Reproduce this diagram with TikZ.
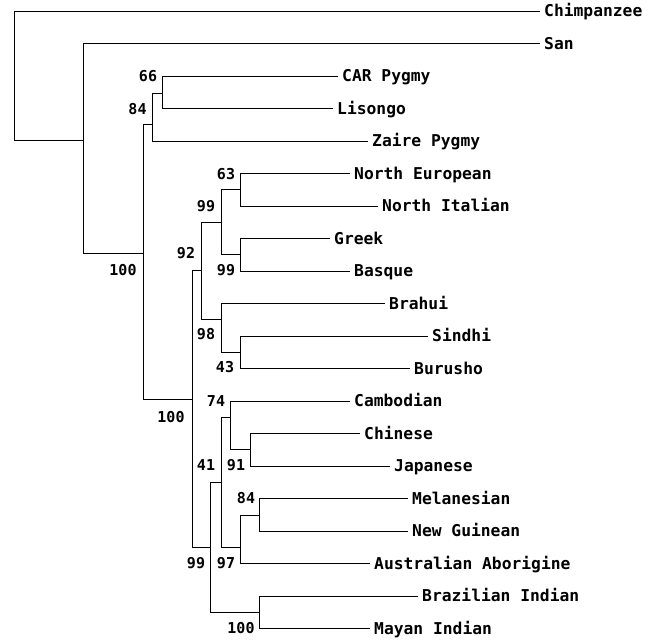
\documentclass[tikz,border=0pt]{standalone}
\usepackage{fontspec}
\setmonofont{DejaVu Sans Mono}
\begin{document}
\begin{tikzpicture}[
    x=1pt, y=-1pt,
    branch/.style={draw=black, line width=1pt},
    taxon/.style={anchor=west, inner xsep=4pt, inner ysep=0pt, text height=11.9pt, text depth=0pt, font=\ttfamily\bfseries\fontsize{16.3}{18}\selectfont},
    support/.style={inner sep=0pt, text height=11pt, text depth=0pt, font=\ttfamily\bfseries\fontsize{15}{17}\selectfont}
]
\useasboundingbox[fill=white] (0,0) rectangle (656,640);

% ==================== INTERNAL NODES ====================
\coordinate (r) at (14, 75);
\coordinate (a) at (83, 140);
\coordinate (b) at (143, 253);
\coordinate (c) at (152, 124);
\coordinate (e) at (162, 93);
\coordinate (d) at (192, 399);
\coordinate (f) at (201, 270);
\coordinate (h) at (221, 222);
\coordinate (k) at (240, 189.5);
\coordinate (j) at (240, 254.5);
\coordinate (i) at (221, 319);
\coordinate (l) at (240, 352);
\coordinate (g) at (210, 547);
\coordinate (m) at (221, 482);
\coordinate (n) at (230, 417);
\coordinate (p) at (250, 449.5);
\coordinate (o) at (240, 547);
\coordinate (q) at (259, 515);
\coordinate (s) at (259, 612);

% ==================== TAXA ====================
\node[taxon] (chimp) at (540, 11) {Chimpanzee};
\node[taxon] (san) at (540, 43.5) {San};
\node[taxon] (car) at (338, 76) {CAR Pygmy};
\node[taxon] (lisongo) at (333, 108.5) {Lisongo};
\node[taxon] (zaire) at (368, 141) {Zaire Pygmy};
\node[taxon] (neur) at (350, 173.5) {North European};
\node[taxon] (nital) at (378, 206) {North Italian};
\node[taxon] (greek) at (330, 238.5) {Greek};
\node[taxon] (basque) at (350, 271) {Basque};
\node[taxon] (brahui) at (385, 303.5) {Brahui};
\node[taxon] (sindhi) at (428, 336) {Sindhi};
\node[taxon] (burusho) at (410, 368.5) {Burusho};
\node[taxon] (cambod) at (350, 401) {Cambodian};
\node[taxon] (chinese) at (360, 433.5) {Chinese};
\node[taxon] (japan) at (390, 466) {Japanese};
\node[taxon] (melan) at (408, 498.5) {Melanesian};
\node[taxon] (newg) at (408, 531) {New Guinean};
\node[taxon] (austr) at (370, 563.5) {Australian Aborigine};
\node[taxon] (brazil) at (418, 596) {Brazilian Indian};
\node[taxon] (mayan) at (370, 628.5) {Mayan Indian};

% ==================== BOOTSTRAP VALUES ====================
\node[support] (bs_e) at (148, 76) {66};
\node[support] (bs_c) at (137.5, 109) {84};
\node[support] (bs_b) at (123, 270) {100};
\node[support] (bs_k) at (226, 174) {63};
\node[support] (bs_h) at (206, 206) {99};
\node[support] (bs_f) at (186, 253) {92};
\node[support] (bs_j) at (226, 270) {99};
\node[support] (bs_i) at (206, 334) {98};
\node[support] (bs_l) at (225, 367) {43};
\node[support] (bs_d) at (171, 417) {100};
\node[support] (bs_n) at (216, 401) {74};
\node[support] (bs_m) at (206, 465) {41};
\node[support] (bs_p) at (236, 465) {91};
\node[support] (bs_q) at (246, 498) {84};
\node[support] (bs_g) at (196, 563) {99};
\node[support] (bs_o) at (226, 563) {97};
\node[support] (bs_s) at (241, 628) {100};

% ==================== BRANCHES ====================
% root and African groups
\draw[branch] (r) |- (chimp);
\draw[branch] (r) |- (a);
\draw[branch] (a) |- (san);
\draw[branch] (a) |- (b);
\draw[branch] (b) |- (c);
\draw[branch] (b) |- (d);
\draw[branch] (c) |- (e);
\draw[branch] (c) |- (zaire);
\draw[branch] (e) |- (car);
\draw[branch] (e) |- (lisongo);

% Europe and South Asia
\draw[branch] (d) |- (f);
\draw[branch] (d) |- (g);
\draw[branch] (f) |- (h);
\draw[branch] (f) |- (i);
\draw[branch] (h) |- (k);
\draw[branch] (h) |- (j);
\draw[branch] (k) |- (neur);
\draw[branch] (k) |- (nital);
\draw[branch] (j) |- (greek);
\draw[branch] (j) |- (basque);
\draw[branch] (i) |- (brahui);
\draw[branch] (i) |- (l);
\draw[branch] (l) |- (sindhi);
\draw[branch] (l) |- (burusho);

% East Asia, Oceania and the Americas
\draw[branch] (g) |- (m);
\draw[branch] (g) |- (s);
\draw[branch] (m) |- (n);
\draw[branch] (m) |- (o);
\draw[branch] (n) |- (cambod);
\draw[branch] (n) |- (p);
\draw[branch] (p) |- (chinese);
\draw[branch] (p) |- (japan);
\draw[branch] (o) |- (q);
\draw[branch] (o) |- (austr);
\draw[branch] (q) |- (melan);
\draw[branch] (q) |- (newg);
\draw[branch] (s) |- (brazil);
\draw[branch] (s) |- (mayan);

\end{tikzpicture}
\end{document}
